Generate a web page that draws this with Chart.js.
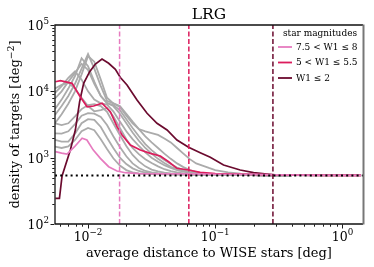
<!DOCTYPE html>
<html><head><meta charset="utf-8">
<script src="https://cdn.jsdelivr.net/npm/chart.js@4/dist/chart.umd.min.js"></script>
<style>html,body{margin:0;padding:0;background:#fff}#wrap{width:374px;height:267px}</style>
</head><body><div id="wrap"><canvas id="c" width="374" height="267"></canvas></div>
<script>
// ---------- text ----------
const titleText = "LRG";
const xLabelText = "average distance to WISE stars [deg]";
const yLabelBase = "density of targets [deg";
const yLabelExp = "\u22122";
const yLabelEnd = "]";
const legendTitle = "star magnitudes";
const legendLabels = ["7.5 < W1 \u2264 8", "5 < W1 \u2264 5.5", "W1 \u2264 2"];

// ---------- tick labels ----------
const xTickValues = [0.01, 0.1, 1];
const xTickExps = ["\u22122", "\u22121", "0"];
const yTickValues = [100, 1000, 10000, 100000];
const yTickExps = ["2", "3", "4", "5"];

// ---------- reference lines ----------
const baselineDensity = 540;
const cutDistances = [0.0177, 0.062, 0.284];

// ---------- colored series ----------
const pinkX = [0.00554, 0.0062, 0.00684, 0.0078, 0.00898, 0.0098, 0.011, 0.0125, 0.01452, 0.0169, 0.0196, 0.025, 0.035, 0.05, 0.08, 0.12, 0.2, 0.3, 0.5, 0.8, 1.2, 1.4];
const pinkY = [1230, 1170, 1135, 1450, 1960, 1845, 1300, 977, 731, 630, 593, 575, 570, 568, 565, 562, 558, 552, 546, 543, 541, 540];

const crimX = [0.00554, 0.00606, 0.00749, 0.0086, 0.00983, 0.01107, 0.01288, 0.01368, 0.01497, 0.0169, 0.01851, 0.0215, 0.02577, 0.0309, 0.037, 0.043, 0.05, 0.0617, 0.0762, 0.1, 0.15, 0.2, 0.3, 0.5, 0.8, 1.2, 1.4];
const crimY = [13960, 14450, 13210, 8500, 5860, 6010, 6610, 5900, 4930, 2930, 2198, 1552, 1305, 1163, 1060, 869, 691, 652, 600, 575, 565, 560, 550, 545, 542, 540, 540];

const maroonX = [0.00554, 0.00596, 0.00625, 0.00726, 0.00795, 0.00859, 0.00924, 0.0103, 0.01143, 0.01288, 0.01452, 0.0164, 0.01796, 0.02025, 0.02427, 0.0291, 0.03484, 0.0418, 0.05, 0.0617, 0.0762, 0.0914, 0.1162, 0.157, 0.2, 0.2547, 0.305, 0.4, 0.6, 0.9, 1.4];
const maroonY = [244, 244, 530, 1305, 2612, 6980, 13210, 19760, 25830, 30700, 26480, 21480, 16190, 12450, 7400, 4670, 3300, 2612, 1845, 1432, 1189, 1013, 774, 652, 594, 567, 548, 543, 541, 540, 540];

// ---------- gray series (other magnitude bins) ----------
const grayX = [0.0055, 0.0062, 0.007, 0.0079, 0.0089, 0.01, 0.0112, 0.0126, 0.0141, 0.0158, 0.0178, 0.02, 0.0224, 0.0251, 0.0282, 0.0316, 0.0355, 0.0398, 0.0447, 0.0501, 0.0562, 0.0631, 0.0708, 0.0794, 0.0891, 0.1, 0.126, 0.158, 0.2, 0.25, 0.32, 0.4];
const gray1 = [1470,1400,1480,1850,2500,2800,2600,1900,1350,980,760,650,600,580,570,565,562,560,558,556,555,554,553,552,551,550,548,546,544,542,541,540];
const gray2 = [1850,1750,1750,2300,3300,3800,3700,2900,2000,1400,1000,800,690,630,595,580,570,565,562,560,558,556,555,554,553,552,550,548,545,543,541,540];
const gray3 = [2330,2300,2500,3200,4300,4700,4600,4100,3100,2100,1450,1050,820,700,630,600,585,575,568,563,560,558,556,555,554,553,551,548,545,543,541,540];
const gray4 = [3300,3100,3300,4200,5400,6200,6400,6000,4900,3300,2200,1500,1100,880,740,660,620,595,580,570,565,560,558,556,554,553,551,548,545,543,541,540];
const gray5 = [11000,12500,13500,11000,8000,6000,5000,5200,5600,4200,2800,1900,1400,1130,950,830,740,670,625,600,580,570,563,558,555,552,549,546,544,542,541,540];
const gray6 = [9500,12000,16000,20000,15000,10000,7500,6600,6300,5000,3500,2500,1900,1500,1200,1000,870,770,700,650,615,590,575,566,560,556,552,548,545,543,541,540];
const gray7 = [7800,10000,14000,19000,26000,21000,13000,8500,6700,6000,4600,3300,2400,1800,1400,1150,960,830,730,670,625,598,580,568,560,555,551,548,545,543,541,540];
const gray8 = [5400,7500,11000,17000,31500,24000,14000,8500,6600,6200,5200,3800,2800,2100,1600,1300,1080,920,800,710,650,610,585,570,562,556,552,548,545,543,541,540];
const gray9 = [4400,6000,8500,13000,22000,36500,22000,12000,7200,6600,6000,4600,3500,2700,2100,1700,1400,1150,960,820,720,650,605,580,566,558,552,548,545,543,541,540];
const gray10 = [3300,4500,6500,10000,18000,34000,28000,15000,8000,6600,5800,4300,3300,2700,2500,2350,2200,1950,1700,1400,1150,950,820,760,700,650,600,575,560,550,543,540];
const graySeries = [gray1, gray2, gray3, gray4, gray5, gray6, gray7, gray8, gray9, gray10];

// ---------- styles ----------
const PINK = "#e67bbf", CRIM = "#dc1c5c", MAROON = "#6b0a2e", GRAY = "#ababab";
const FONT = '"DejaVu Serif", serif';
const X_MIN = 0.0055, X_MAX = 1.45, Y_MIN = 100, Y_MAX = 100000;

const pts = (xs, ys) => xs.map((x, i) => ({x: x, y: ys[i]}));
const datasets = [];
datasets.push({data: [{x: X_MIN, y: baselineDensity}, {x: X_MAX, y: baselineDensity}], borderColor: "#000", borderWidth: 2, borderDash: [2, 3.2], order: 0});
[PINK, CRIM, MAROON].forEach((c, i) => {
  datasets.push({data: [{x: cutDistances[i], y: Y_MIN}, {x: cutDistances[i], y: Y_MAX}], borderColor: c, borderWidth: 1.5, borderDash: [5, 2.5], order: 1});
});
datasets.push({data: pts(pinkX, pinkY), borderColor: PINK, borderWidth: 1.7, order: 2});
datasets.push({data: pts(crimX, crimY), borderColor: CRIM, borderWidth: 1.7, order: 3});
datasets.push({data: pts(maroonX, maroonY), borderColor: MAROON, borderWidth: 1.7, order: 4});
graySeries.forEach(g => datasets.push({data: pts(grayX, g), borderColor: GRAY, borderWidth: 1.8, order: 10}));
datasets.forEach(d => { d.pointRadius = 0; d.fill = false; d.tension = 0; d.borderCapStyle = 'butt'; });

function drawPow(ctx, base, exp, x, y, align, size) {
  ctx.font = size + "px " + FONT;
  const wb = ctx.measureText(base).width;
  ctx.font = (size * 0.7) + "px " + FONT;
  const we = ctx.measureText(exp).width;
  const w = wb + we;
  let x0 = align === "right" ? x - w : align === "center" ? x - w / 2 : x;
  ctx.textAlign = "left";
  ctx.textBaseline = "alphabetic";
  ctx.font = size + "px " + FONT;
  ctx.fillText(base, x0, y);
  ctx.font = (size * 0.7) + "px " + FONT;
  ctx.fillText(exp, x0 + wb, y - size * 0.45);
}

const decor = {
  id: "decor",
  afterDraw(chart) {
    const ctx = chart.ctx, a = chart.chartArea, xs = chart.scales.x, ys = chart.scales.y;
    ctx.save();
    ctx.setLineDash([]);
    const L = Math.round(a.left), R = Math.round(a.right), T = Math.round(a.top), B = Math.round(a.bottom);
    // frame
    ctx.strokeStyle = "#111"; ctx.lineWidth = 1.3;
    ctx.beginPath();
    ctx.moveTo(L, B); ctx.lineTo(L, T); ctx.lineTo(R, T);
    ctx.moveTo(L, B); ctx.lineTo(R, B);
    ctx.stroke();
    ctx.strokeStyle = "#777"; ctx.lineWidth = 2;
    ctx.beginPath(); ctx.moveTo(R + 0.5, T - 0.5); ctx.lineTo(R + 0.5, B + 0.5); ctx.stroke();
    // ticks
    ctx.fillStyle = "#000";
    ctx.strokeStyle = "#000"; ctx.lineWidth = 0.9;
    ctx.beginPath();
    for (let d = -3; d <= 1; d++) {
      for (let k = 1; k <= 9; k++) {
        const v = k * Math.pow(10, d);
        if (v < X_MIN || v > X_MAX) continue;
        const px = Math.round(xs.getPixelForValue(v)) + 0.5;
        const len = k === 1 ? 4 : 2.2;
        ctx.moveTo(px, B + 0.5); ctx.lineTo(px, B + 0.5 + len);
      }
    }
    for (let d = 2; d <= 5; d++) {
      for (let k = 1; k <= 9; k++) {
        const v = k * Math.pow(10, d);
        if (v < Y_MIN || v > Y_MAX) continue;
        const py = Math.round(ys.getPixelForValue(v)) + 0.5;
        const len = k === 1 ? 4 : 2.2;
        ctx.moveTo(L - 0.5, py); ctx.lineTo(L - 0.5 - len, py);
      }
    }
    ctx.stroke();
    // tick labels
    xTickValues.forEach((v, i) => drawPow(ctx, "10", xTickExps[i], xs.getPixelForValue(v), B + 16.5, "center", 12.5));
    yTickValues.forEach((v, i) => drawPow(ctx, "10", yTickExps[i], L - 6, ys.getPixelForValue(v) + 5, "right", 12.5));
    // title
    ctx.font = "15.5px " + FONT; ctx.textAlign = "center"; ctx.textBaseline = "alphabetic";
    ctx.fillText(titleText, (a.left + a.right) / 2, 18.5);
    // x label
    ctx.font = "13px " + FONT;
    ctx.fillText(xLabelText, (a.left + a.right) / 2, 257);
    // y label
    ctx.save();
    ctx.translate(19, (a.top + a.bottom) / 2);
    ctx.rotate(-Math.PI / 2);
    ctx.font = "13px " + FONT;
    const w1 = ctx.measureText(yLabelBase).width;
    ctx.font = "9.4px " + FONT;
    const w2 = ctx.measureText(yLabelExp).width;
    ctx.font = "13px " + FONT;
    const w3 = ctx.measureText(yLabelEnd).width;
    let x0 = -(w1 + w2 + w3) / 2;
    ctx.textAlign = "left";
    ctx.fillText(yLabelBase, x0, 0);
    ctx.font = "9.4px " + FONT;
    ctx.fillText(yLabelExp, x0 + w1, -5.5);
    ctx.font = "13px " + FONT;
    ctx.fillText(yLabelEnd, x0 + w1 + w2, 0);
    ctx.restore();
    // legend
    ctx.font = "9px " + FONT; ctx.textAlign = "center"; ctx.textBaseline = "middle";
    ctx.fillText(legendTitle, 320, 33.5);
    const cols = [PINK, CRIM, MAROON];
    const rowsY = [47, 62.5, 78];
    ctx.textAlign = "left";
    cols.forEach((c, i) => {
      ctx.strokeStyle = c; ctx.lineWidth = 1.8;
      ctx.beginPath(); ctx.moveTo(278, rowsY[i]); ctx.lineTo(292, rowsY[i]); ctx.stroke();
      ctx.fillText(legendLabels[i], 296, rowsY[i] + 0.5);
    });
    ctx.restore();
  }
};

new Chart(document.getElementById("c"), {
  type: "line",
  data: {datasets: datasets},
  options: {
    responsive: false,
    animation: false,
    devicePixelRatio: 1,
    layout: {padding: {top: 25, right: 11, left: 0, bottom: 0}},
    plugins: {legend: {display: false}, tooltip: {enabled: false}, title: {display: false}},
    scales: {
      x: {type: "logarithmic", min: X_MIN, max: X_MAX, grid: {display: false}, border: {display: false},
          ticks: {display: false}, afterFit: s => { s.height = 43; }},
      y: {type: "logarithmic", min: Y_MIN, max: Y_MAX, grid: {display: false}, border: {display: false},
          ticks: {display: false}, afterFit: s => { s.width = 55; }}
    }
  },
  plugins: [decor]
});
</script></body></html>
